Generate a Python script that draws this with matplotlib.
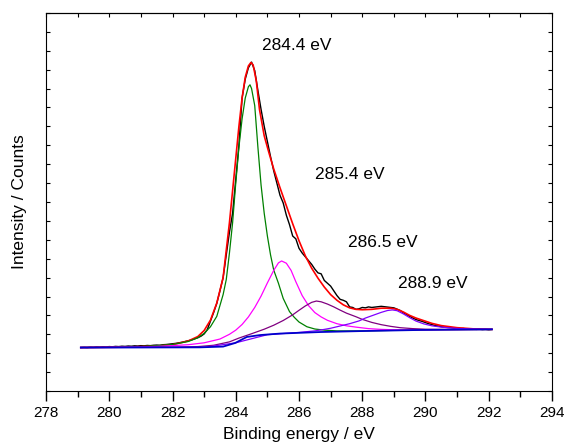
import matplotlib
matplotlib.use("Agg")
import matplotlib.pyplot as plt
from matplotlib.ticker import MultipleLocator

plt.rcParams['font.family'] = ['Liberation Sans', 'DejaVu Sans']

# Measured spectrum (C 1s), binding energy in eV and intensity in kcounts
data_ev = [279.1, 279.2, 279.3, 279.4, 279.5, 279.6, 279.7, 279.8, 279.9, 280.0,
           280.1, 280.2, 280.3, 280.4, 280.5, 280.6, 280.7, 280.8, 280.9, 281.0,
           281.1, 281.2, 281.3, 281.4, 281.5, 281.6, 281.7, 281.8, 281.9, 282.0,
           282.1, 282.2, 282.3, 282.4, 282.5, 282.6, 282.7, 282.8, 282.9, 283.0,
           283.1, 283.2, 283.3, 283.4, 283.5, 283.6, 283.7, 283.8, 283.9, 284.0,
           284.1, 284.2, 284.3, 284.4, 284.5, 284.6, 284.7, 284.8, 284.9, 285.0,
           285.1, 285.2, 285.3, 285.4, 285.5, 285.6, 285.7, 285.8, 285.9, 286.0,
           286.1, 286.2, 286.3, 286.4, 286.5, 286.6, 286.7, 286.8, 286.9, 287.0,
           287.1, 287.2, 287.3, 287.4, 287.5, 287.6, 287.7, 287.8, 287.9, 288.0,
           288.1, 288.2, 288.3, 288.4, 288.5, 288.6, 288.7, 288.8, 288.9, 289.0,
           289.1, 289.2, 289.3, 289.4, 289.5, 289.6, 289.7, 289.8, 289.9, 290.0,
           290.1, 290.2, 290.3, 290.4, 290.5, 290.6, 290.7, 290.8, 290.9, 291.0,
           291.1, 291.2, 291.3, 291.4, 291.5, 291.6, 291.7, 291.8, 291.9, 292.0,
           292.1]
data_counts = [2.30, 2.31, 2.30, 2.32, 2.31, 2.33, 2.32, 2.34, 2.33, 2.35,
               2.34, 2.36, 2.35, 2.37, 2.36, 2.38, 2.37, 2.39, 2.38, 2.40,
               2.39, 2.41, 2.40, 2.42, 2.43, 2.42, 2.45, 2.46, 2.48, 2.50,
               2.52, 2.55, 2.58, 2.62, 2.66, 2.70, 2.76, 2.82, 2.90, 3.02,
               3.25, 3.70, 4.15, 4.64, 5.30, 6.00, 7.20, 8.40, 9.40, 11.20,
               13.00, 15.50, 16.50, 17.10, 17.40, 16.95, 15.90, 14.90, 14.00, 13.20,
               12.40, 11.65, 11.00, 10.35, 9.95, 9.30, 8.80, 8.20, 8.05, 7.55,
               7.30, 7.10, 6.90, 6.70, 6.45, 6.25, 6.20, 5.85, 5.70, 5.55,
               5.30, 5.05, 4.85, 4.80, 4.72, 4.45, 4.42, 4.32, 4.35, 4.42,
               4.40, 4.45, 4.42, 4.44, 4.46, 4.48, 4.46, 4.44, 4.42, 4.40,
               4.33, 4.26, 4.14, 4.05, 3.95, 3.86, 3.78, 3.73, 3.68, 3.62,
               3.56, 3.52, 3.46, 3.44, 3.40, 3.38, 3.36, 3.35, 3.33, 3.32,
               3.30, 3.31, 3.28, 3.27, 3.28, 3.26, 3.27, 3.25, 3.26, 3.24,
               3.26]

# Envelope of the fit
fit_ev = [279.1, 280.5, 281.5, 282.0, 282.5, 282.8, 283.0, 283.2, 283.4, 283.6,
          283.8, 284.0, 284.1, 284.2, 284.3, 284.4, 284.48, 284.55, 284.65, 284.75,
          284.9, 285.05, 285.2, 285.4, 285.6, 285.8, 286.0, 286.2, 286.4, 286.6,
          286.8, 287.0, 287.2, 287.4, 287.6, 287.8, 288.0, 288.3, 288.6, 288.9,
          289.1, 289.3, 289.5, 289.7, 289.95, 290.2, 290.5, 291.0, 291.5, 292.1]
fit_counts = [2.30, 2.32, 2.38, 2.45, 2.65, 2.88, 3.20, 3.75, 4.65, 6.00,
              8.90, 12.30, 14.00, 15.50, 16.60, 17.20, 17.38, 17.25, 16.40, 14.90,
              13.50, 12.60, 11.75, 10.75, 9.80, 8.85, 7.95, 7.15, 6.50, 5.97,
              5.50, 5.10, 4.80, 4.56, 4.40, 4.32, 4.30, 4.32, 4.38, 4.38,
              4.32, 4.18, 4.00, 3.86, 3.72, 3.58, 3.46, 3.35, 3.29, 3.26]

# Component 284.4 eV
c1_ev = [279.1, 280.0, 281.0, 281.5, 282.0, 282.5, 282.8, 283.0, 283.2, 283.4,
         283.6, 283.7, 283.8, 283.9, 284.0, 284.1, 284.2, 284.3, 284.4, 284.45,
         284.5, 284.6, 284.7, 284.8, 284.9, 285.0, 285.1, 285.2, 285.35, 285.5,
         285.7, 285.85, 286.0, 286.25, 286.5, 286.8, 287.2, 288.0, 289.0, 290.0,
         291.0, 292.1]
c1_counts = [2.30, 2.31, 2.35, 2.40, 2.46, 2.62, 2.82, 3.05, 3.40, 3.95,
             5.10, 5.90, 7.30, 8.90, 11.00, 12.90, 14.40, 15.50, 16.10, 16.20,
             16.00, 15.10, 12.90, 10.90, 9.40, 8.20, 7.20, 6.40, 5.70, 4.90,
             4.20, 3.90, 3.65, 3.40, 3.28, 3.22, 3.18, 3.18, 3.21, 3.23,
             3.25, 3.26]

# Component 285.4 eV
c2_ev = [279.1, 281.0, 281.5, 282.0, 282.5, 283.0, 283.5, 283.8, 284.0, 284.2,
         284.4, 284.6, 284.8, 285.0, 285.2, 285.35, 285.45, 285.6, 285.75, 285.9,
         286.1, 286.3, 286.5, 286.7, 286.9, 287.2, 287.5, 287.8, 288.2, 288.6,
         289.0, 290.0, 291.0, 292.1]
c2_counts = [2.30, 2.33, 2.36, 2.40, 2.45, 2.55, 2.75, 3.00, 3.22, 3.52,
             3.92, 4.42, 5.02, 5.72, 6.38, 6.78, 6.88, 6.76, 6.38, 5.78,
             5.05, 4.52, 4.15, 3.92, 3.74, 3.56, 3.45, 3.38, 3.30, 3.26,
             3.24, 3.23, 3.25, 3.26]

# Component 286.5 eV
c3_ev = [279.1, 282.0, 282.8, 283.3, 283.8, 284.1, 284.5, 284.9, 285.2, 285.5,
         285.8, 286.0, 286.2, 286.4, 286.55, 286.7, 286.9, 287.1, 287.3, 287.5,
         287.8, 288.0, 288.3, 288.6, 288.9, 289.2, 289.6, 290.0, 291.0, 292.1]
c3_counts = [2.30, 2.32, 2.35, 2.42, 2.60, 2.80, 3.03, 3.27, 3.48, 3.73,
             4.03, 4.27, 4.50, 4.69, 4.76, 4.72, 4.60, 4.45, 4.28, 4.12,
             3.93, 3.79, 3.63, 3.51, 3.42, 3.35, 3.30, 3.27, 3.25, 3.26]

# Component 288.9 eV
c4_ev = [279.1, 283.0, 284.0, 285.0, 286.0, 286.5, 286.8, 287.0, 287.3, 287.6,
         287.9, 288.1, 288.4, 288.6, 288.8, 288.95, 289.1, 289.3, 289.5, 289.7,
         289.95, 290.2, 290.5, 291.0, 291.5, 292.1]
c4_counts = [2.30, 2.31, 2.55, 2.98, 3.10, 3.18, 3.26, 3.32, 3.44, 3.56,
             3.71, 3.86, 4.04, 4.16, 4.26, 4.29, 4.25, 4.08, 3.88, 3.70,
             3.55, 3.45, 3.38, 3.31, 3.28, 3.26]

# Shirley background
bg_ev = [279.1, 282.87, 283.6, 283.98, 284.35, 284.77, 285.41, 286.67, 287.94,
         289.84, 291.1, 292.1]
bg_counts = [2.30, 2.31, 2.35, 2.54, 2.86, 2.96, 3.04, 3.12, 3.17,
             3.23, 3.25, 3.26]

peak_labels = ["284.4 eV", "285.4 eV", "286.5 eV", "288.9 eV"]
label_ev = [284.84, 286.51, 287.56, 289.14]
label_counts = [18.3, 11.43, 7.88, 5.71]

fig = plt.figure(figsize=(5.64, 4.46), dpi=100)
ax = fig.add_axes([0.0816, 0.1233, 0.8971, 0.8476])

ax.plot(data_ev, data_counts, color='black', lw=1.0)
ax.plot(fit_ev, fit_counts, color='red', lw=1.2)
ax.plot(c1_ev, c1_counts, color='#008000', lw=0.9)
ax.plot(c2_ev, c2_counts, color='#ff00ff', lw=0.9)
ax.plot(c3_ev, c3_counts, color='#800080', lw=0.9)
ax.plot(c4_ev, c4_counts, color='#8000ff', lw=0.9)
ax.plot(bg_ev, bg_counts, color='#0000cc', lw=1.3)

for text, x, y in zip(peak_labels, label_ev, label_counts):
    ax.text(x, y, text, fontsize=12.5, va='center', ha='left')

ax.set_xlim(278, 294)
ax.set_ylim(0, 20)
ax.xaxis.set_major_locator(MultipleLocator(2))
ax.xaxis.set_minor_locator(MultipleLocator(1))
ax.yaxis.set_major_locator(MultipleLocator(1))
ax.tick_params(axis='x', which='major', direction='out', length=7, width=1,
               labelsize=11, top=False)
ax.tick_params(axis='x', which='minor', direction='out', length=4, width=1, top=False)
ax.tick_params(axis='y', which='major', direction='in', length=3, width=0.8,
               left=True, right=True, labelleft=False)

# top axis only carries small inward ticks
top = ax.secondary_xaxis('top')
top.xaxis.set_major_locator(MultipleLocator(1))
top.tick_params(direction='in', length=3, width=0.8, labeltop=False)

ax.set_xlabel("Binding energy / eV", fontsize=12.5, labelpad=5)
ax.set_ylabel("Intensity / Counts", fontsize=12.5, labelpad=14)

fig.savefig("out.png", dpi=100)
